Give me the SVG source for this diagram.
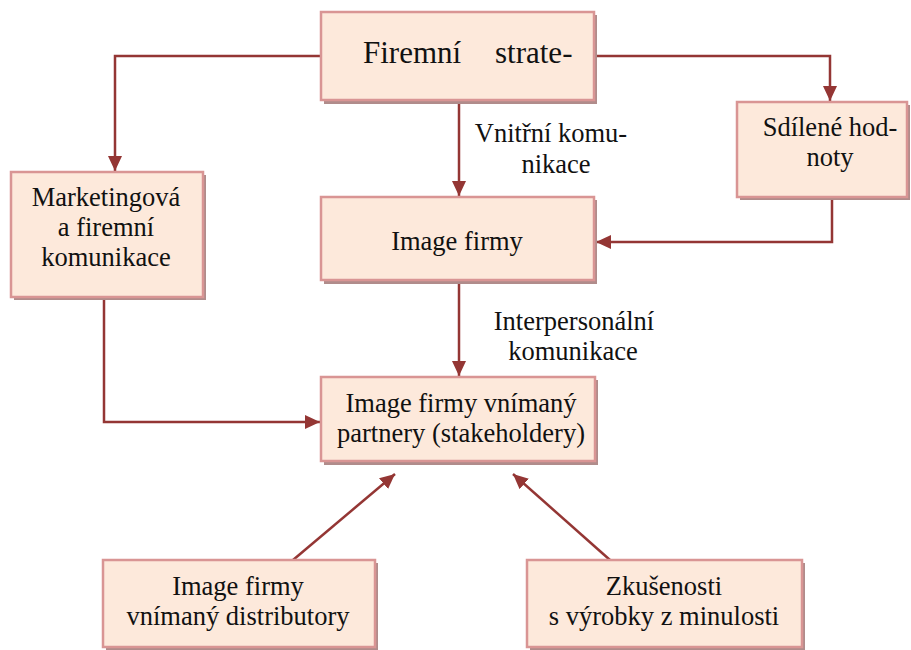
<svg xmlns="http://www.w3.org/2000/svg" width="911" height="650" viewBox="0 0 911 650">
<style>
.box{fill:#FDE9DB;stroke:#D99594;stroke-width:2.5}
.sh{fill:#B08C8B}
.t{font-size:26.5px;fill:#111;text-anchor:middle}
.c{fill:none;stroke:#943634;stroke-width:2.5}
</style>
<defs>
<marker id="ah" markerUnits="userSpaceOnUse" markerWidth="16" markerHeight="14" refX="15" refY="7" orient="auto">
<path d="M0,0 L15,7 L0,14 Z" fill="#943634"/>
</marker>
</defs>
<rect width="911" height="650" fill="#fff"/>
<g id="connectors">
<path class="c" d="M321,56 H115 V171" marker-end="url(#ah)"/>
<path class="c" d="M594,56 H830 V101" marker-end="url(#ah)"/>
<path class="c" d="M459,101 V196" marker-end="url(#ah)"/>
<path class="c" d="M832,197 V242 H596" marker-end="url(#ah)"/>
<path class="c" d="M459,282 V376" marker-end="url(#ah)"/>
<path class="c" d="M104,297 V422 H320" marker-end="url(#ah)"/>
<path class="c" d="M293,560 L395,474" marker-end="url(#ah)"/>
<path class="c" d="M610,560 L513,474" marker-end="url(#ah)"/>
</g>
<g font-family="'Liberation Serif', 'DejaVu Serif', serif">
<g id="strategie">
<rect class="sh" x="324" y="15" width="273" height="89"/>
<rect class="box" x="321" y="12" width="273" height="88"/>
<text class="t" style="font-size:31px;text-anchor:start" x="363" y="63">Firemní</text>
<text class="t" style="font-size:31px;text-anchor:start" x="495" y="63">strate-</text>
</g>
<g id="sdilene">
<rect class="sh" x="740" y="105" width="170" height="95"/>
<rect class="box" x="737" y="102" width="170" height="95"/>
<text class="t" x="830" y="136">Sdílené hod-</text>
<text class="t" x="830" y="166">noty</text>
</g>
<g id="marketing">
<rect class="sh" x="14" y="175" width="192" height="125"/>
<rect class="box" x="11" y="172" width="192" height="125"/>
<text class="t" x="106" y="206">Marketingová</text>
<text class="t" x="106" y="236">a firemní</text>
<text class="t" x="106" y="266">komunikace</text>
</g>
<g id="image">
<rect class="sh" x="324" y="200" width="273" height="84"/>
<rect class="box" x="321" y="197" width="273" height="83"/>
<text class="t" x="457" y="250">Image firmy</text>
</g>
<g id="label-vnitrni">
<text class="t" x="551" y="142">Vnitřní komu-</text>
<text class="t" x="556" y="173">nikace</text>
</g>
<g id="label-interpersonalni">
<text class="t" x="574" y="330">Interpersonální</text>
<text class="t" x="573" y="360">komunikace</text>
</g>
<g id="stakeholdery">
<rect class="sh" x="324" y="380" width="274" height="85"/>
<rect class="box" x="321" y="377" width="274" height="84"/>
<text class="t" x="461" y="412">Image firmy vnímaný</text>
<text class="t" x="461" y="442">partnery (stakeholdery)</text>
</g>
<g id="distributory">
<rect class="sh" x="106" y="563" width="272" height="87"/>
<rect class="box" x="103" y="560" width="272" height="87"/>
<text class="t" x="238" y="595">Image firmy</text>
<text class="t" x="238" y="625">vnímaný distributory</text>
</g>
<g id="zkusenosti">
<rect class="sh" x="530" y="563" width="275" height="87"/>
<rect class="box" x="527" y="560" width="275" height="87"/>
<text class="t" x="664" y="595">Zkušenosti</text>
<text class="t" x="664" y="625">s výrobky z minulosti</text>
</g>
</g>
</svg>
